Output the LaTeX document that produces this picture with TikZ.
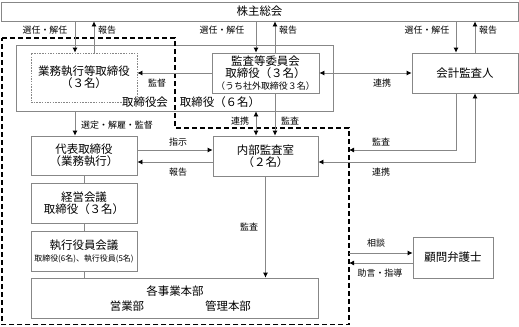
\documentclass[tikz,border=0pt]{standalone}
\usepackage{fontspec}
\setmainfont{Noto Sans CJK JP}
\usepackage{tikz}
\usetikzlibrary{arrows.meta,positioning}
\definecolor{lnGray}{RGB}{135,135,135}

\begin{document}
\begin{tikzpicture}[
  x=1bp,y=-1bp,
  font=\fontsize{11.5}{12}\selectfont,
  box/.style={draw=lnGray,line width=0.8bp,inner sep=0pt,align=center},
  lbl/.style={inner sep=1pt,font=\fontsize{9}{10}\selectfont},
  link/.style={draw=lnGray,line width=0.8bp},
  arr/.style={link,-{Latex[length=5bp,width=5bp,color=black]}},
  biarr/.style={link,{Latex[length=5bp,width=5bp,color=black]}-{Latex[length=5bp,width=5bp,color=black]}},
  fence/.style={line width=1.1bp,dash pattern=on 5bp off 3bp},
]
\useasboundingbox (0,0) rectangle (519,326);

% shareholders and board
\node[box,minimum width=517bp,minimum height=19bp] (gms) at (259.5,11.5) {株主総会};
\node[box,minimum width=317bp,minimum height=66bp] (board) at (174.5,78) {};
\node[box,dash pattern=on 1.5bp off 1.2bp,minimum width=106bp,minimum height=49bp] (exec) at (84,77.5)
     {業務執行等取締役\\（３名）};
\node[box,minimum width=107bp,minimum height=40bp] (acm) at (265.5,73)
     {監査等委員会\\取締役（３名）\\{\fontsize{9}{10}\selectfont （うち社外取締役３名）}};
\node[inner sep=0pt] (bdname) at (145,102) {取締役会};
\node[inner sep=0pt] (bdcount) at (220,102) {取締役（６名）};
\node[box,minimum width=106bp,minimum height=40bp] (firm) at (465,73) {会計監査人};

% execution side
\node[box,minimum width=106bp,minimum height=39bp] (rep) at (84,155.5) {代表取締役\\（業務執行）};
\node[box,minimum width=105bp,minimum height=40bp] (ia) at (265.5,156) {内部監査室\\（２名）};
\node[box,minimum width=106bp,minimum height=40bp] (mgmt) at (84,203) {経営会議\\取締役（３名）};
\node[box,minimum width=106bp,minimum height=40bp] (offc) at (84,251)
     {執行役員会議\\{\fontsize{8}{9}\selectfont 取締役(6名)、執行役員(5名)}};
\node[box,minimum width=287bp,minimum height=40bp] (div) at (174.5,298) {};
\node[inner sep=0pt] (divname) at (175,291) {各事業本部};
\node[inner sep=0pt] (sales) at (127,306) {営業部};
\node[inner sep=0pt] (admin) at (228,306) {管理本部};
\node[box,minimum width=80bp,minimum height=41bp] (law) at (453,257.5) {顧問弁護士};

% dashed fence
\coordinate (d1) at (2,38);
\coordinate (d2) at (175,38);
\coordinate (d3) at (175,128);
\coordinate (d4) at (349,128);
\coordinate (d5) at (349,324.5);
\coordinate (d6) at (2,324.5);
\draw[fence] (d1) -- (d2) -- (d3) -- (d4) -- (d5) -- (d6) -- cycle;

% columns and rows of connectors
\coordinate (xa) at (75,0);
\coordinate (xb) at (94,0);
\coordinate (xc) at (256,0);
\coordinate (xd) at (275,0);
\coordinate (xe) at (456,0);
\coordinate (xf) at (475,0);
\coordinate (ya) at (0,150);
\coordinate (yb) at (0,162);
\coordinate (yc) at (0,253);
\coordinate (yd) at (0,263);

% from/to the general meeting
\draw[arr] (gms.south -| xa) -- (exec.north -| xa);
\draw[arr] (exec.north -| xb) -- (gms.south -| xb);
\draw[arr] (gms.south -| xc) -- (acm.north -| xc);
\draw[arr] (acm.north -| xd) -- (gms.south -| xd);
\draw[arr] (gms.south -| xe) -- (firm.north -| xe);
\draw[arr] (firm.north -| xf) -- (gms.south -| xf);
\node[lbl] (l1) at (45,30) {選任・解任};
\node[lbl] (l2) at (107,30) {報告};
\node[lbl] (l3) at (222,30) {選任・解任};
\node[lbl] (l4) at (288,30) {報告};
\node[lbl] (l5) at (427,30) {選任・解任};
\node[lbl] (l6) at (488,30) {報告};

% audit committee
\draw[arr] (acm.west) -- (exec.east |- acm.west);
\draw[biarr] (acm.east) -- (firm.west);
\node[lbl] (l7) at (157,83) {監督};
\node[lbl] (l8) at (382,83) {連携};

% board to execution
\draw[arr] (board.south -| xa) -- (rep.north -| xa);
\draw[biarr] (board.south -| xc) -- (ia.north -| xc);
\draw[arr] (acm.south -| xd) -- (ia.north -| xd);
\node[lbl] (l9) at (117,125) {選定・解雇・監督};
\node[lbl] (l10) at (240,121) {連携};
\node[lbl] (l11) at (290,121) {監査};

\draw[arr] (rep.east |- ya) -- (ia.west |- ya);
\draw[arr] (ia.west |- yb) -- (rep.east |- yb);
\node[lbl] (l12) at (178,142) {指示};
\node[lbl] (l13) at (178,172) {報告};

\draw[link] (rep.south) -- (mgmt.north);
\draw[link] (mgmt.south) -- (offc.north);
\draw[link] (offc.south) -- (offc.south |- div.north);
\draw[arr] (ia.south) -- (ia.south |- div.north);
\node[lbl] (l14) at (249,227) {監査};

% accounting auditor
\draw[arr] (firm.south -| xe) |- (d4 |- ya);
\draw[biarr] (firm.south -| xf) |- (ia.east |- yb);
\node[lbl] (l15) at (381,142) {監査};
\node[lbl] (l16) at (381,172) {連携};

% legal counsel
\draw[arr] (d5 |- yc) -- (law.west |- yc);
\draw[arr] (law.west |- yd) -- (d5 |- yd);
\node[lbl] (l17) at (376,243) {相談};
\node[lbl] (l18) at (380,273) {助言・指導};
\end{tikzpicture}
\end{document}
